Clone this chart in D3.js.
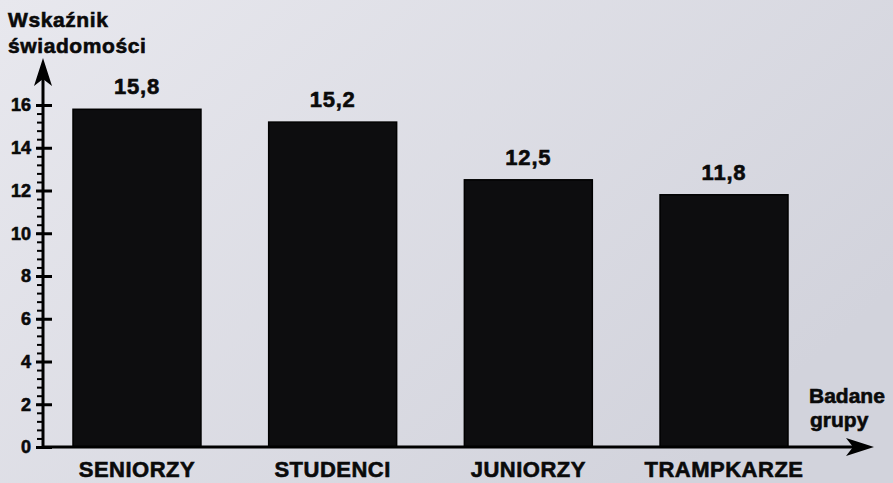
<!DOCTYPE html>
<html>
<head>
<meta charset="utf-8">
<script src="https://cdn.jsdelivr.net/npm/d3@7"></script>
<style>
  body { margin: 0; background: #dcdde4; }
  svg text { font-family: "Liberation Sans", Arial, sans-serif; font-weight: bold; fill: #0a0a0a; stroke: #0a0a0a; stroke-width: 0.6px; }
</style>
</head>
<body>
<div id="chart"></div>
<script>
// data
const groups = ["SENIORZY", "STUDENCI", "JUNIORZY", "TRAMPKARZE"]
const values = [15.8, 15.2, 12.5, 11.8]
const valueLabels = ["15,8", "15,2", "12,5", "11,8"]
const yTicks = [0, 2, 4, 6, 8, 10, 12, 14, 16]

const W = 893, H = 483
const x0 = 43, y0 = 447

const svg = d3.select("#chart").append("svg")
    .attr("width", W)
    .attr("height", H)

// paper background, a bit lighter on the top left
const grad = svg.append("defs").append("linearGradient").attr("id", "paper")
    .attr("x1", "0%").attr("y1", "0%").attr("x2", "100%").attr("y2", "60%")
grad.append("stop").attr("offset", "0%").attr("stop-color", "#e8e8ee")
grad.append("stop").attr("offset", "100%").attr("stop-color", "#d2d3dc")
svg.append("rect").attr("width", W).attr("height", H).attr("fill", "url(#paper)")

// scales
const x = d3.scaleBand()
    .domain(groups)
    .range([73, 788])
    .paddingInner(0.346)
    .paddingOuter(0)

const y = d3.scaleLinear()
    .domain([0, 16])
    .range([y0, 105])

// bars
svg.selectAll(".bar")
    .data(groups)
    .join("rect")
    .attr("class", "bar")
    .attr("x", d => x(d))
    .attr("y", (d, i) => y(values[i]))
    .attr("width", x.bandwidth())
    .attr("height", (d, i) => y0 - y(values[i]))
    .attr("fill", "#0d0d0f")
    .attr("stroke", "#000")
    .attr("stroke-width", 1.5)

// value labels over bars
svg.selectAll(".val")
    .data(groups)
    .join("text")
    .attr("class", "val")
    .attr("x", d => x(d) + x.bandwidth() / 2)
    .attr("y", (d, i) => y(values[i]) - 15)
    .attr("text-anchor", "middle")
    .style("font-size", "22px")
    .style("letter-spacing", "0.8px")
    .text((d, i) => valueLabels[i])

// category labels
svg.selectAll(".cat")
    .data(groups)
    .join("text")
    .attr("class", "cat")
    .attr("x", d => x(d) + x.bandwidth() / 2)
    .attr("y", 477)
    .attr("text-anchor", "middle")
    .style("font-size", "22px")
    .style("letter-spacing", "0.5px")
    .text(d => d)

// minor ticks on y axis
const minor = svg.append("g")
    .attr("transform", `translate(${x0},0)`)
    .call(d3.axisLeft(y).tickValues(d3.range(0, 16.01, 0.4)).tickSize(6).tickFormat(""))
minor.select(".domain").remove()
minor.selectAll("line").attr("stroke", "#000").attr("stroke-width", 2)

// major ticks with labels
const major = svg.append("g")
    .attr("transform", `translate(${x0},0)`)
    .call(d3.axisLeft(y).tickValues(yTicks).tickSize(0).tickPadding(12))
major.select(".domain").remove()
major.selectAll(".tick line")
    .attr("x1", -7).attr("x2", 9)
    .attr("stroke", "#000").attr("stroke-width", 3)
major.selectAll(".tick text")
    .style("font-size", "18px")
    .style("font-family", "Liberation Sans, Arial, sans-serif")
    .style("font-weight", "bold")
    .attr("fill", "#0a0a0a")

// axis lines with arrows
svg.append("line")
    .attr("x1", x0).attr("y1", y0 + 1)
    .attr("x2", x0).attr("y2", 72)
    .attr("stroke", "#000").attr("stroke-width", 3)
svg.append("path")
    .attr("d", d3.line()([[x0, 58], [x0 - 9, 86], [x0, 79], [x0 + 9, 86]]) + "Z")
    .attr("fill", "#000")

svg.append("line")
    .attr("x1", x0 - 1).attr("y1", y0)
    .attr("x2", 860).attr("y2", y0)
    .attr("stroke", "#000").attr("stroke-width", 3)
svg.append("path")
    .attr("d", d3.line()([[874, y0], [846, y0 - 9], [853, y0], [846, y0 + 9]]) + "Z")
    .attr("fill", "#000")

// axis titles
svg.append("text").attr("x", 8).attr("y", 27).style("font-size", "21px").style("letter-spacing", "0.6px").text("Wskaźnik")
svg.append("text").attr("x", 8).attr("y", 53).style("font-size", "21px").style("letter-spacing", "0.6px").text("świadomości")
svg.append("text").attr("x", 809).attr("y", 403).style("font-size", "21px").text("Badane")
svg.append("text").attr("x", 810).attr("y", 427).style("font-size", "21px").text("grupy")
</script>
</body>
</html>
